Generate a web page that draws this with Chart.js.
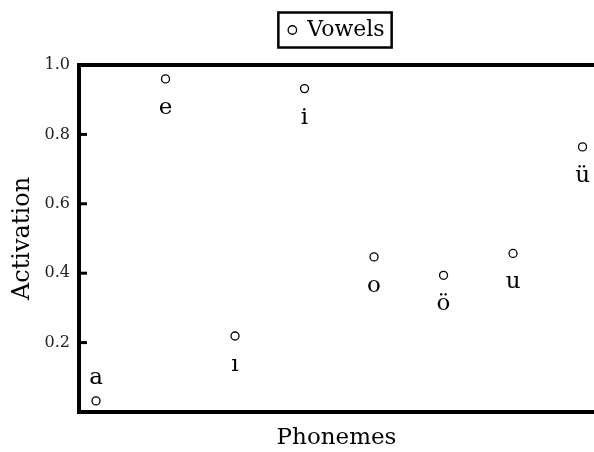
<!DOCTYPE html>
<html>
<head>
<meta charset="utf-8">
<script src="https://cdn.jsdelivr.net/npm/chart.js@4/dist/chart.umd.min.js"></script>
<style>
  html, body { margin: 0; padding: 0; background: #fff; }
  #wrap { width: 594px; height: 452px; }
</style>
</head>
<body>
<div id="wrap"><canvas id="c"></canvas></div>
<script>
// Activation per vowel phoneme
const vowels = ["a", "e", "ı", "i", "o", "ö", "u", "ü"];
const positions = [1, 2, 3, 4, 5, 6, 7, 8];
const activation = [0.032, 0.960, 0.219, 0.932, 0.447, 0.394, 0.457, 0.764];
const yTicks = [0.2, 0.4, 0.6, 0.8, 1.0];
const labelsAbove = ["a"];

const FONT = "'DejaVu Serif', 'Liberation Serif', serif";
const INK = "#000";

// small inward tick marks on the left axis
const inwardTicks = {
  id: "inwardTicks",
  afterDraw(chart) {
    const { ctx, chartArea, scales } = chart;
    ctx.save();
    ctx.strokeStyle = INK;
    ctx.lineWidth = 3;
    yTicks.forEach((v) => {
      const y = scales.y.getPixelForValue(v);
      ctx.beginPath();
      ctx.moveTo(chartArea.left, y);
      ctx.lineTo(chartArea.left + 8, y);
      ctx.stroke();
    });
    ctx.restore();
  },
};

// letter under (or over) each point
const pointLabels = {
  id: "pointLabels",
  afterDatasetsDraw(chart) {
    const { ctx } = chart;
    const meta = chart.getDatasetMeta(0);
    ctx.save();
    ctx.font = "23px " + FONT;
    ctx.fillStyle = INK;
    ctx.textAlign = "center";
    ctx.textBaseline = "alphabetic";
    meta.data.forEach((pt, i) => {
      const txt = vowels[i];
      const dy = labelsAbove.includes(txt) ? -17 : 35;
      ctx.fillText(txt, pt.x, pt.y + dy);
    });
    ctx.restore();
  },
};

// frame around the legend
const legendBox = {
  id: "legendBox",
  afterDraw(chart) {
    const lg = chart.legend;
    if (!lg || !lg.legendHitBoxes || !lg.legendHitBoxes.length) return;
    const hb = lg.legendHitBoxes[0];
    const cy = hb.top + hb.height / 2;
    const { ctx } = chart;
    ctx.save();
    ctx.strokeStyle = INK;
    ctx.lineWidth = 2.5;
    ctx.strokeRect(hb.left - 10, cy - 17.5, hb.width + 17, 35);
    ctx.restore();
  },
};

new Chart(document.getElementById("c"), {
  type: "scatter",
  data: {
    datasets: [
      {
        label: "Vowels",
        data: positions.map((x, i) => ({ x, y: activation[i] })),
        pointStyle: "circle",
        pointRadius: 4,
        pointHoverRadius: 4,
        pointBorderWidth: 1.3,
        pointBorderColor: INK,
        pointBackgroundColor: "#fff",
        borderColor: INK,
        backgroundColor: "#fff",
        borderWidth: 1.3,
      },
    ],
  },
  options: {
    responsive: true,
    maintainAspectRatio: false,
    animation: false,
    layout: { autoPadding: false, padding: { top: 9, right: 0, bottom: 0, left: 0 } },
    plugins: {
      legend: {
        display: true,
        position: "top",
        fullSize: false,
        labels: {
          usePointStyle: true,
          boxWidth: 8,
          boxHeight: 6,
          padding: 10,
          color: INK,
          font: { family: FONT, size: 22 },
        },
      },
      tooltip: { enabled: false },
    },
    scales: {
      x: {
        type: "linear",
        position: "bottom",
        min: 0.755,
        max: 8.165,
        grid: { display: false },
        border: { display: true, color: INK, width: 4 },
        ticks: { display: false },
        title: {
          display: true,
          text: "Phonemes",
          color: INK,
          font: { family: FONT, size: 23 },
          padding: { top: 0, bottom: 0 },
        },
        afterFit(scale) { scale.height = 40; },
      },
      x2: {
        type: "linear",
        position: "top",
        min: 0.755,
        max: 8.165,
        grid: { display: false },
        border: { display: true, color: INK, width: 4 },
        ticks: { display: false },
        afterFit(scale) { scale.height = 14; },
      },
      y: {
        type: "linear",
        min: 0,
        max: 1,
        afterBuildTicks(scale) {
          scale.ticks = yTicks.map((v) => ({ value: v }));
        },
        grid: { display: false, drawTicks: false },
        border: { display: true, color: INK, width: 4 },
        ticks: {
          color: "#222",
          padding: 9,
          font: { family: FONT, size: 16 },
          callback: (v) => Number(v).toFixed(1),
        },
        title: {
          display: true,
          text: "Activation",
          color: INK,
          font: { family: FONT, size: 24 },
          padding: { top: 8, bottom: 0 },
        },
        afterFit(scale) { scale.width = 79; },
      },
    },
  },
  plugins: [inwardTicks, pointLabels, legendBox],
});
</script>
</body>
</html>
